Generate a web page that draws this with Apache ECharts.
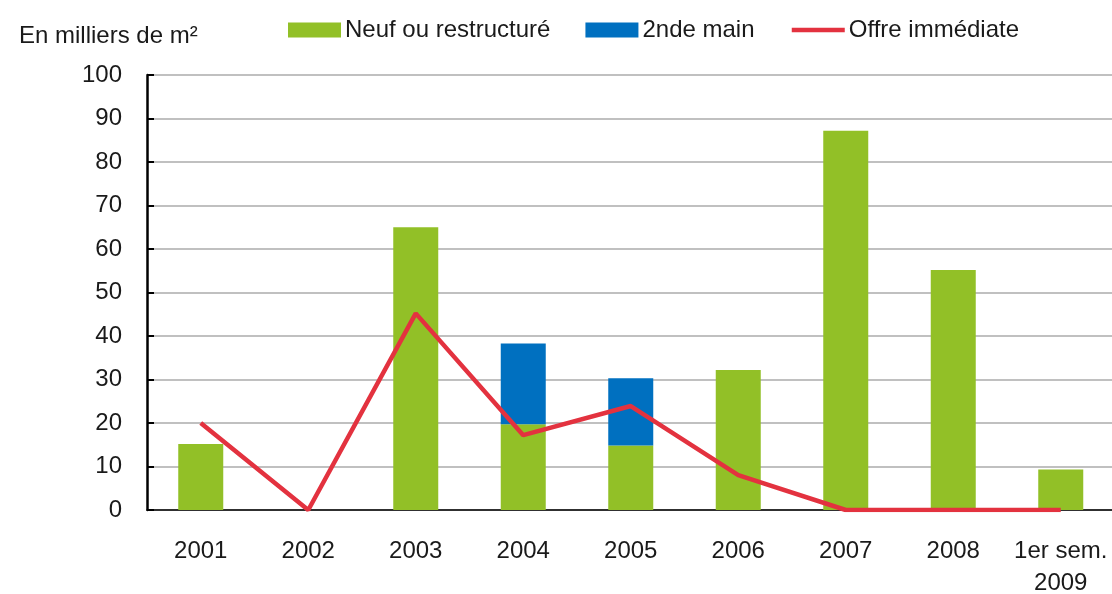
<!DOCTYPE html>
<html>
<head>
<meta charset="utf-8">
<script src="https://cdn.jsdelivr.net/npm/echarts@6/dist/echarts.min.js"></script>
<style>
  html, body { margin: 0; padding: 0; background: #ffffff; }
  #chart { width: 1112px; height: 594px; }
</style>
</head>
<body>
<div id="chart"></div>
<script>
const categories = ['2001', '2002', '2003', '2004', '2005', '2006', '2007', '2008', '1er sem.\n2009'];
const neufValues = [15.2, null, 65, 19.7, 14.8, 32.2, 87.2, 55.2, 9.3];
const secondeMainValues = [null, null, null, 18.6, 15.5, null, null, null, null];
const offreValues = [20, 0, 45.2, 17.2, 23.9, 8, 0, 0, 0];
const yTicks = { min: 0, max: 100, interval: 10 };
const unitLabel = 'En milliers de m²';
const seriesNames = ['Neuf ou restructuré', '2nde main', 'Offre immédiate'];

const FONT = '"Liberation Sans", Arial, sans-serif';
const TXT = '#1a1a1a';
const FS = 24;

const chart = echarts.init(document.getElementById('chart'), null, { renderer: 'canvas' });
chart.setOption({
  animation: false,
  backgroundColor: '#ffffff',
  textStyle: { fontFamily: FONT, color: TXT },
  title: {
    text: unitLabel,
    left: 14,
    top: 19,
    textStyle: { fontFamily: FONT, fontSize: FS, fontWeight: 'normal', color: TXT }
  },
  legend: {
    left: 283,
    top: 13,
    itemWidth: 53,
    itemHeight: 15,
    itemGap: 35,
    textStyle: { fontFamily: FONT, fontSize: FS, color: TXT, padding: [0, 0, 0, -1] },
    data: [
      { name: seriesNames[0], icon: 'rect' },
      { name: seriesNames[1], icon: 'rect' },
      { name: seriesNames[2], itemStyle: { opacity: 0 }, lineStyle: { width: 4.5 } }
    ]
  },
  grid: { left: 147, top: 75, width: 967.5, bottom: 84, containLabel: false, outerBoundsMode: 'none' },
  xAxis: {
    type: 'category',
    data: categories,
    axisLine: { show: true, lineStyle: { color: '#000000', width: 1.5 } },
    axisTick: { show: false },
    axisLabel: { fontFamily: FONT, fontSize: FS, color: TXT, margin: 25, lineHeight: 32, interval: 0 }
  },
  yAxis: {
    type: 'value',
    min: yTicks.min,
    max: yTicks.max,
    interval: yTicks.interval,
    axisLine: { show: true, lineStyle: { color: '#000000', width: 2.5 } },
    axisTick: { show: true, inside: true, length: 7, lineStyle: { color: '#000000', width: 2 } },
    axisLabel: { fontFamily: FONT, fontSize: FS, color: TXT, margin: 25 },
    splitLine: { show: true, lineStyle: { color: '#c0c0c0', width: 2 } }
  },
  series: [
    {
      name: seriesNames[0],
      type: 'bar',
      stack: 'total',
      barWidth: 45,
      data: neufValues,
      itemStyle: { color: '#92c027' }
    },
    {
      name: seriesNames[1],
      type: 'bar',
      stack: 'total',
      barWidth: 45,
      data: secondeMainValues,
      itemStyle: { color: '#0070c0' }
    },
    {
      name: seriesNames[2],
      type: 'line',
      data: offreValues,
      symbol: 'none',
      lineStyle: { color: '#e3323f', width: 4.5 },
      itemStyle: { color: '#e3323f' },
      z: 5
    }
  ]
});
</script>
</body>
</html>
